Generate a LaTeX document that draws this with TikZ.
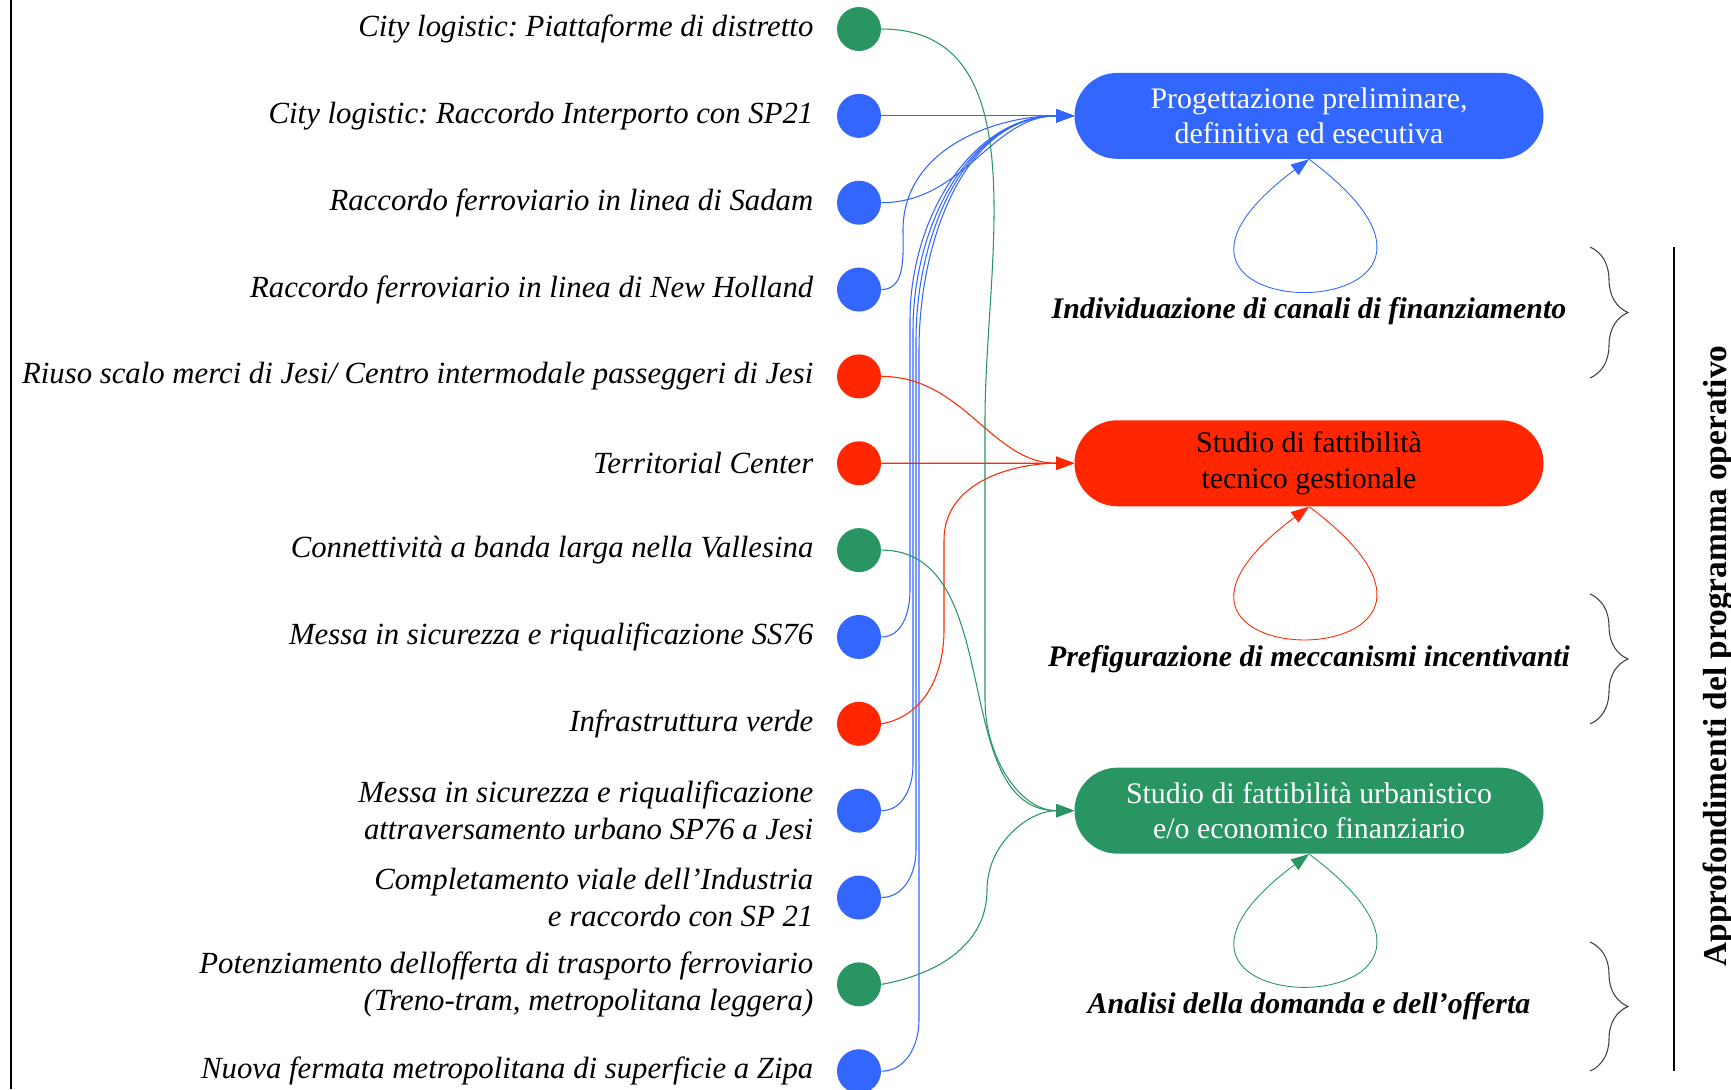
\documentclass[tikz,border=0pt]{standalone}
\usepackage{fontspec}
\setmainfont{Liberation Serif}
\usepackage{xcolor}
\usetikzlibrary{positioning, arrows.meta, decorations.pathreplacing}
\frenchspacing

\definecolor{progblue}{RGB}{51,102,255}
\definecolor{studred}{RGB}{255,38,0}
\definecolor{urbgreen}{RGB}{41,149,99}

\tikzset{
	pdot/.style={circle, fill=#1, minimum size=8.8mm, inner sep=0pt},
	lbl/.style={inner sep=0pt, align=right, font=\fontsize{17.5}{21}\selectfont\itshape},
	workbox/.style={rounded corners=8.6mm, fill=#1, minimum width=93.8mm, minimum height=17.2mm, align=center, font=\fontsize{17}{20}\selectfont},
	looplbl/.style={font=\fontsize{17}{20}\selectfont\bfseries\itshape},
	link/.style={line width=0.6pt, -{Triangle[length=3.6mm, width=2.6mm]}},
	selfloop/.style={line width=0.5pt, -{Triangle[length=3.6mm, width=2.6mm]}},
	grp/.style={decorate, decoration={brace, amplitude=7.6mm}, line width=0.6pt, black!75},
}

\begin{document}
\begin{tikzpicture}[x=0.2mm, y=-0.2mm]
			\useasboundingbox (0,0) rectangle (1731,1089);
			\draw[line width=0.8pt] (11,0) -- (11,1089);
			
			% projects
			\foreach \c [count=\i] in {urbgreen, progblue, progblue, progblue, studred, studred, urbgreen, progblue, studred, progblue, progblue, urbgreen, progblue}
			\node[pdot=\c] (d\i) at (859, {29+86.85*(\i-1)}) {};
			
			\node[lbl, left=4.6mm of d1] (l1) {City logistic: Piattaforme di distretto};
			\node[lbl, left=4.6mm of d2] (l2) {City logistic: Raccordo Interporto con SP21};
			\node[lbl, left=4.6mm of d3] (l3) {Raccordo ferroviario in linea di Sadam};
			\node[lbl, left=4.6mm of d4] (l4) {Raccordo ferroviario in linea di New Holland};
			\node[lbl, left=4.6mm of d5] (l5) {Riuso scalo merci di Jesi/ Centro intermodale passeggeri di Jesi};
			\node[lbl, left=4.6mm of d6] (l6) {Territorial Center};
			\node[lbl, left=4.6mm of d7] (l7) {Connettività a banda larga nella Vallesina};
			\node[lbl, left=4.6mm of d8] (l8) {Messa in sicurezza e riqualificazione SS76};
			\node[lbl, left=4.6mm of d9] (l9) {Infrastruttura verde};
			\node[lbl, left=4.6mm of d10] (l10) {Messa in sicurezza e riqualificazione\\attraversamento urbano SP76 a Jesi};
			\node[lbl, left=4.6mm of d11] (l11) {Completamento viale dell’Industria\\e raccordo con SP 21};
			\node[lbl, left=4.6mm of d12] (l12) {Potenziamento dellofferta di trasporto ferroviario\\(Treno-tram, metropolitana leggera)};
			\node[lbl, left=4.6mm of d13] (l13) {Nuova fermata metropolitana di superficie a Zipa};
			
			% studies
			\node[workbox=progblue, text=white] (pp) at (1309,115.85) {Progettazione preliminare,\\definitiva ed esecutiva};
			\node[workbox=studred] (fs) at (1309,463.25) {Studio di fattibilità\\tecnico gestionale};
			\node[workbox=urbgreen, text=white] (gs) at (1309,810.65) {Studio di fattibilità urbanistico\\e/o economico finanziario};
			
			\node[looplbl] (n1) at (1309,311) {Individuazione di canali di finanziamento};
			\node[looplbl] (n2) at (1309,659) {Prefigurazione di meccanismi incentivanti};
			\node[looplbl] (n3) at (1309,1006) {Analisi della domanda e dell’offerta};
			
			\foreach \b/\c in {pp/progblue, fs/studred, gs/urbgreen}
			\draw[selfloop, \c] (\b.south) .. controls +(236,176) and +(-236,176) .. (\b.south);
			
			% blue links
			\begin{scope}[link, progblue]
			\draw (d2) -- (pp);
			\draw (d3.east) to [out = 0, in = 180] (pp.west);
			\draw (d4.east) to [out = 0, in = -90] (903,230) to [out = 90, in = 180] (pp.west);
			\draw (d8.east) to [out = 0, in = -90] (910,590) -- (910,320) to [out = 90, in = 180] (pp.west);
			\draw (d10.east) to [out = 0, in = -90] (913,765) -- (913,330) to [out = 90, in = 180] (pp.west);
			\draw (d11.east) to [out = 0, in = -90] (916,850) -- (916,340) to [out = 90, in = 180] (pp.west);
			\draw (d13.east) to [out = 0, in = -90] (919,1020) -- (919,350) to [out = 90, in = 180] (pp.west);
			\end{scope}
			
			% red links
			\begin{scope}[link, studred]
			\draw (d5.east) to [out = 0, in = 180] (fs.west);
			\draw (d6) -- (fs);
			\draw (d9.east) to [out = 10, in = -90] (944,630) -- (944,540) to [out = 90, in = 180] (fs.west);
			\end{scope}
			
			% green links
			\begin{scope}[link, urbgreen]
			\draw (d1.east) to [out = 0, in = 90] (985,420) -- (985,700) to [out = -90, in = 180] (gs.west);
			\draw (d7.east) to [out = 0, in = 180] (gs.west);
			\draw (d12.east) to [out = 10, in = -90] (987,890) to [out = 90, in = 180] (gs.west);
			\end{scope}
			
			% groups
			\draw[grp] (1590,247) -- (1590,378);
			\draw[grp] (1590,594) -- (1590,724);
			\draw[grp] (1590,942) -- (1590,1071);
			\draw[line width=0.8pt] (1674,247) -- (1674,1071);
			\node[rotate=90, anchor=base, font=\fontsize{19}{22}\selectfont\bfseries] (ap) at (1726,656) {Approfondimenti del programma operativo};
		\end{tikzpicture}
\end{document}
